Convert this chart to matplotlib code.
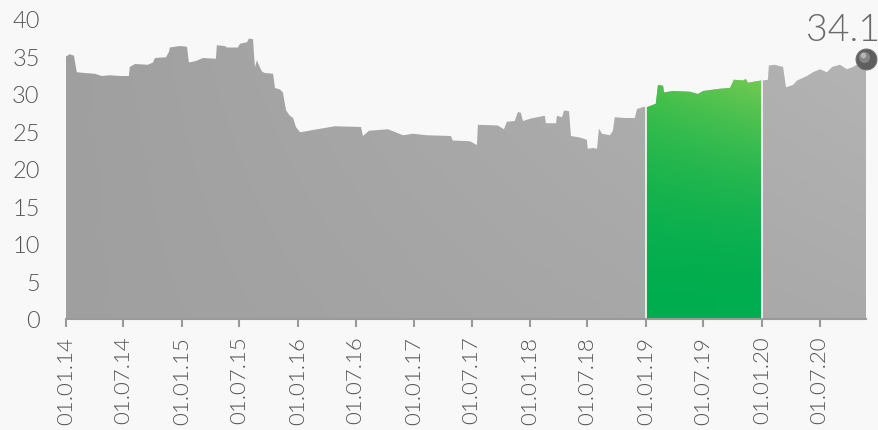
import matplotlib.pyplot as plt
import matplotlib.dates as mdates
import numpy as np
import pandas as pd
from matplotlib.transforms import ScaledTranslation

# price history
dates = [
    '2014-01-01', '2014-01-13', '2014-01-26', '2014-02-04', '2014-03-01', '2014-04-02',
    '2014-04-24', '2014-05-19', '2014-06-20', '2014-07-18', '2014-07-21', '2014-08-06',
    '2014-09-16', '2014-10-02', '2014-10-08', '2014-11-12', '2014-11-21', '2014-11-24',
    '2014-12-26', '2015-01-17', '2015-01-23', '2015-02-14', '2015-03-08', '2015-04-18',
    '2015-04-21', '2015-05-16', '2015-05-23', '2015-06-26', '2015-07-03', '2015-07-25',
    '2015-07-31', '2015-08-13', '2015-08-16', '2015-08-19', '2015-08-25', '2015-09-01',
    '2015-09-10', '2015-09-19', '2015-10-15', '2015-10-21', '2015-11-06', '2015-11-15',
    '2015-11-25', '2015-12-07', '2015-12-17', '2015-12-26', '2016-01-08', '2016-01-23',
    '2016-02-17', '2016-04-27', '2016-07-18', '2016-07-24', '2016-08-12', '2016-10-11',
    '2016-11-27', '2016-12-29', '2017-02-10', '2017-04-27', '2017-05-03', '2017-06-26',
    '2017-07-18', '2017-07-21', '2017-09-22', '2017-10-11', '2017-10-20', '2017-11-14',
    '2017-11-24', '2017-12-03', '2017-12-10', '2018-01-01', '2018-01-23', '2018-02-17',
    '2018-02-20', '2018-03-24', '2018-03-27', '2018-04-12', '2018-04-18', '2018-05-04',
    '2018-05-10', '2018-06-07', '2018-06-29', '2018-07-02', '2018-07-18', '2018-07-31',
    '2018-08-06', '2018-08-16', '2018-09-10', '2018-09-19', '2018-09-25', '2018-10-27',
    '2018-11-27', '2018-12-04', '2018-12-26',
    '2019-01-02', '2019-01-14', '2019-02-01', '2019-02-08', '2019-02-24', '2019-02-27',
    '2019-03-27', '2019-05-20', '2019-06-14', '2019-06-30', '2019-08-22', '2019-09-23',
    '2019-10-05', '2019-11-03', '2019-11-12', '2019-11-18', '2019-12-29',
    '2020-01-04', '2020-01-20', '2020-01-23', '2020-02-11', '2020-03-08', '2020-03-17',
    '2020-04-08', '2020-04-21', '2020-05-22', '2020-06-10', '2020-07-02', '2020-07-24',
    '2020-08-09', '2020-09-03', '2020-09-25', '2020-10-14', '2020-10-30', '2020-11-14',
    '2020-11-24',
]
values = [
    35.0, 35.3, 35.1, 32.9, 32.8, 32.7,
    32.4, 32.5, 32.4, 32.4, 33.6, 34.0,
    33.9, 34.2, 34.8, 34.9, 35.6, 36.2,
    36.4, 36.3, 34.2, 34.4, 34.8, 34.7,
    36.5, 36.4, 36.2, 36.2, 36.7, 36.9,
    37.4, 37.3, 35.3, 33.6, 34.5, 33.8,
    33.0, 32.8, 32.7, 30.8, 30.6, 30.2,
    27.8, 27.1, 26.8, 25.6, 24.9, 25.0,
    25.2, 25.7, 25.6, 24.4, 25.1, 25.3,
    24.5, 24.7, 24.5, 24.4, 23.8, 23.7,
    23.2, 25.9, 25.8, 25.3, 26.3, 26.4,
    27.6, 27.5, 26.4, 26.7, 26.9, 27.1,
    26.1, 26.1, 27.1, 26.9, 27.8, 27.7,
    24.4, 24.2, 23.9, 22.7, 22.8, 22.7,
    25.4, 24.7, 24.5, 25.1, 26.9, 26.8,
    26.8, 28.0, 28.3,
    28.2, 28.4, 28.7, 31.2, 31.1, 30.2,
    30.4, 30.3, 30.0, 30.4, 30.7, 30.8,
    31.9, 31.8, 32.0, 31.5, 31.8,
    31.8, 31.9, 33.8, 33.9, 33.6, 30.9,
    31.2, 31.8, 32.4, 32.9, 33.3, 32.9,
    33.6, 33.9, 33.3, 33.6, 34.0, 34.0,
    34.1,
]
highlight_start = '2019-01-01'
highlight_end = '2020-01-01'
last_label = '34.1'

bg = '#f8f8f8'

df = pd.DataFrame({'date': pd.to_datetime(dates), 'value': values})
x = mdates.date2num(df['date'])
y = df['value'].to_numpy()

plt.rcParams['font.family'] = ['Lato', 'DejaVu Sans']

fig = plt.figure(figsize=(8.79, 4.31), dpi=100, facecolor=bg)
ax = fig.add_axes([66 / 879, 111 / 431, 800 / 879, 300 / 431])
ax.set_facecolor(bg)

# gray area with a soft left-to-right gradient
gray_poly = ax.fill_between(x, 0, y, facecolor='none', edgecolor='none')
xf = np.linspace(0, 1, 400)[None, :]
yf = np.linspace(0, 1, 200)[:, None]
shade = 0.625 + 0.085 * xf * (0.5 + 0.5 * yf)
gray_img = np.dstack([shade, shade, shade])
im = ax.imshow(gray_img, extent=[x[0], x[-1], 0, 40], aspect='auto', origin='lower',
               interpolation='bilinear', zorder=2)
im.set_clip_path(gray_poly.get_paths()[0], ax.transData)

# highlighted year in green
hl = ((df['date'] >= highlight_start) & (df['date'] < highlight_end)).to_numpy()
gx = x[hl]
gy = y[hl]
g0 = mdates.date2num(pd.Timestamp(highlight_start))
g1 = mdates.date2num(pd.Timestamp(highlight_end))
gx = np.concatenate([[g0], gx, [g1 - 1]])
gy = np.concatenate([[gy[0]], gy, [gy[-1]]])
green_poly = ax.fill_between(gx, 0, gy, facecolor='none', edgecolor='none')

top_l = np.array([0x4c, 0xc2, 0x4a]) / 255
top_r = np.array([0x72, 0xca, 0x52]) / 255
bottom = np.array([0x00, 0xad, 0x4f]) / 255
gxf = np.linspace(0, 1, 200)[None, :, None]
gyv = np.linspace(0, 40, 300)[:, None, None]
t = np.clip(gyv / 32, 0, 1) ** 2
top = top_l + (top_r - top_l) * gxf
green_img = np.clip(bottom + (top - bottom) * t, 0, 1)
im2 = ax.imshow(green_img, extent=[g0, g1, 0, 40], aspect='auto', origin='lower',
                interpolation='bilinear', zorder=3)
im2.set_clip_path(green_poly.get_paths()[0], ax.transData)

# thin separators at the start and end of the highlighted year
ax.vlines([g0, g1 - 0.5], 0, [gy[0] + 0.3, gy[-1] + 0.3], color='#f2f2f2', lw=1.3, zorder=4)

ax.set_xlim(x[0], x[-1])
ax.set_ylim(0, 40)

ax.xaxis.set_major_locator(mdates.MonthLocator(bymonth=[1, 7]))
ax.xaxis.set_major_formatter(mdates.DateFormatter('%d.%m.%y'))
ax.set_yticks(range(0, 41, 5))

for lab in ax.get_xticklabels():
    lab.set_rotation(90)
ax.tick_params(axis='x', length=6, width=1.5, color='#9a9a9a', pad=6,
               labelsize=16, labelcolor='#555555')
ax.tick_params(axis='y', length=0, pad=19, labelsize=17, labelcolor='#555555')
for lab in ax.get_xticklabels() + ax.get_yticklabels():
    lab.set_fontweight(300)

for side in ['top', 'right', 'left']:
    ax.spines[side].set_visible(False)
ax.spines['bottom'].set_color('#9a9a9a')
ax.spines['bottom'].set_linewidth(1.5)
ax.spines['bottom'].set_zorder(5)

# sphere marker on the last value
up = ScaledTranslation(0, 4 / 100, fig.dpi_scale_trans)
ax.plot(x[-1], y[-1], 'o', ms=15, color='#5e5e5e', mec='#707070', mew=0.8,
        transform=ax.transData + up, clip_on=False, zorder=6)
hi = ScaledTranslation(-2 / 100, 6.5 / 100, fig.dpi_scale_trans)
ax.plot(x[-1], y[-1], 'o', ms=8, color='#858585', mec='none',
        transform=ax.transData + hi, clip_on=False, zorder=7)
hi2 = ScaledTranslation(-3 / 100, 8 / 100, fig.dpi_scale_trans)
ax.plot(x[-1], y[-1], 'o', ms=4, color='#b5b5b5', mec='none',
        transform=ax.transData + hi2, clip_on=False, zorder=8)

ax.annotate(last_label, xy=(x[-1], y[-1]), xytext=(10, 17), textcoords='offset points',
            ha='right', va='baseline', fontsize=27, color='#6a6a6a',
            fontweight=300, annotation_clip=False)

fig.savefig('out.png', dpi=100, facecolor=bg)
